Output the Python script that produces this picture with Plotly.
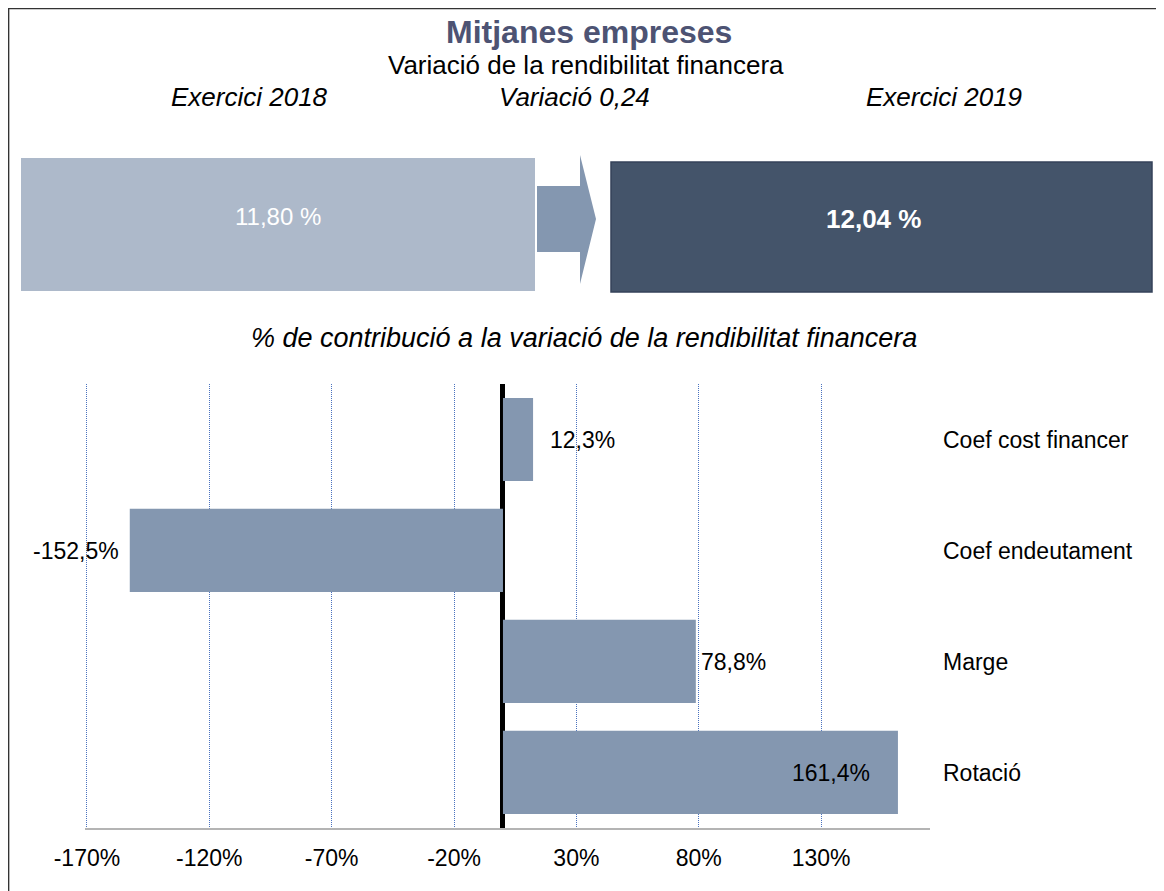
import plotly.graph_objects as go

# ---- data ----
categories = ["Coef cost financer", "Coef endeutament", "Marge", "Rotació"]
contrib_pct = [12.3, -152.5, 78.8, 161.4]
value_2018 = 11.80
value_2019 = 12.04
variation = 0.24
tick_vals = [-170, -120, -70, -20, 30, 80, 130]

# label placement (style only)
label_anchor = ["left", "right", "left", "right"]
label_shift = [15, -9, 3, -26]

W, H = 1164, 891
OFF = 8  # page body margin
def px(x):
    return (x - OFF) / W
def py(y):
    return 1 - (y - OFF) / H

FONT = "Liberation Sans, Arial, sans-serif"
BAR = "#8497B0"

def fmt(v, d):
    return f"{v:.{d}f}".replace(".", ",")

fig = go.Figure()
fig.add_trace(go.Bar(
    y=categories, x=contrib_pct, orientation="h",
    marker=dict(color=BAR, line=dict(width=0)),
    width=0.75,
    hoverinfo="skip",
))

fig.update_layout(
    width=W, height=H,
    margin=dict(l=0, r=0, t=0, b=0),
    paper_bgcolor="white", plot_bgcolor="white",
    showlegend=False,
    font=dict(family=FONT, color="black", size=23),
    separators=",.",
    xaxis=dict(
        domain=[px(84.5), px(930)],
        range=[-171, 174.5],
        tickvals=tick_vals,
        ticktext=[f"{v}%" for v in tick_vals],
        showgrid=True, gridcolor="#4A72C0", griddash="1px,1px", gridwidth=1,
        zeroline=True, zerolinecolor="black", zerolinewidth=5,
        showline=True, linecolor="#B4B4B4", linewidth=2,
        ticks="", ticklabelstandoff=8,
        tickfont=dict(size=23, color="black"),
        automargin=False, fixedrange=True,
    ),
    yaxis=dict(
        domain=[py(828), py(384)],
        autorange="reversed",
        side="right",
        showgrid=False, zeroline=False, showline=False,
        ticks="", ticklabelstandoff=12,
        tickfont=dict(size=23, color="black"),
        automargin=False, fixedrange=True,
    ),
)

shapes = []
# outer frame
shapes.append(dict(type="rect", xref="paper", yref="paper",
                   x0=0.6 / W, x1=1 + 10 / W, y0=-10 / H, y1=1 - 0.6 / H,
                   line=dict(color="#333333", width=1.5), fillcolor="rgba(0,0,0,0)", layer="below"))
# 2018 box
shapes.append(dict(type="rect", xref="paper", yref="paper",
                   x0=px(21), x1=px(535), y0=py(291), y1=py(158),
                   line=dict(width=0), fillcolor="#ADB9CA"))
# arrow
ax0, ax1, ax2 = px(537), px(580), px(596)
path = (f"M {ax0},{py(186)} L {ax1},{py(186)} L {ax1},{py(155)} L {ax2},{py(219)} "
        f"L {ax1},{py(284)} L {ax1},{py(252)} L {ax0},{py(252)} Z")
shapes.append(dict(type="path", xref="paper", yref="paper", path=path,
                   line=dict(width=0), fillcolor=BAR))
# 2019 box
shapes.append(dict(type="rect", xref="paper", yref="paper",
                   x0=px(611), x1=px(1152), y0=py(292), y1=py(162),
                   line=dict(color="#34425A", width=1.5), fillcolor="#44546A"))
fig.update_layout(shapes=shapes)

ann = []
def add_text(x, y, text, size, color="black", bold=False, italic=False):
    t = text
    if bold:
        t = f"<b>{t}</b>"
    if italic:
        t = f"<i>{t}</i>"
    ann.append(dict(xref="paper", yref="paper", x=px(x), y=py(y), text=t,
                    showarrow=False, xanchor="center", yanchor="middle",
                    font=dict(size=size, color=color, family=FONT)))

add_text(589, 32, "Mitjanes empreses", 32, color="#4D5373", bold=True)
add_text(586, 65, "Variació de la rendibilitat financera", 26)
add_text(249, 97, "Exercici 2018", 26, italic=True)
add_text(574, 97, "Variació " + fmt(variation, 2), 26, italic=True)
add_text(944, 97, "Exercici 2019", 26, italic=True)
add_text(278, 217, fmt(value_2018, 2) + " %", 24, color="white")
add_text(873, 219, fmt(value_2019, 2) + " %", 26, color="white", bold=True)
add_text(584, 338, "% de contribució a la variació de la rendibilitat financera", 27, italic=True)

# data labels through the axes
for cat, v, anc, sh in zip(categories, contrib_pct, label_anchor, label_shift):
    ann.append(dict(xref="x", yref="y", x=v, y=cat, text=fmt(v, 1) + "%",
                    showarrow=False, xanchor=anc, yanchor="middle", xshift=sh,
                    font=dict(size=23, color="black", family=FONT)))
fig.update_layout(annotations=ann)

fig.write_html("out.html")
